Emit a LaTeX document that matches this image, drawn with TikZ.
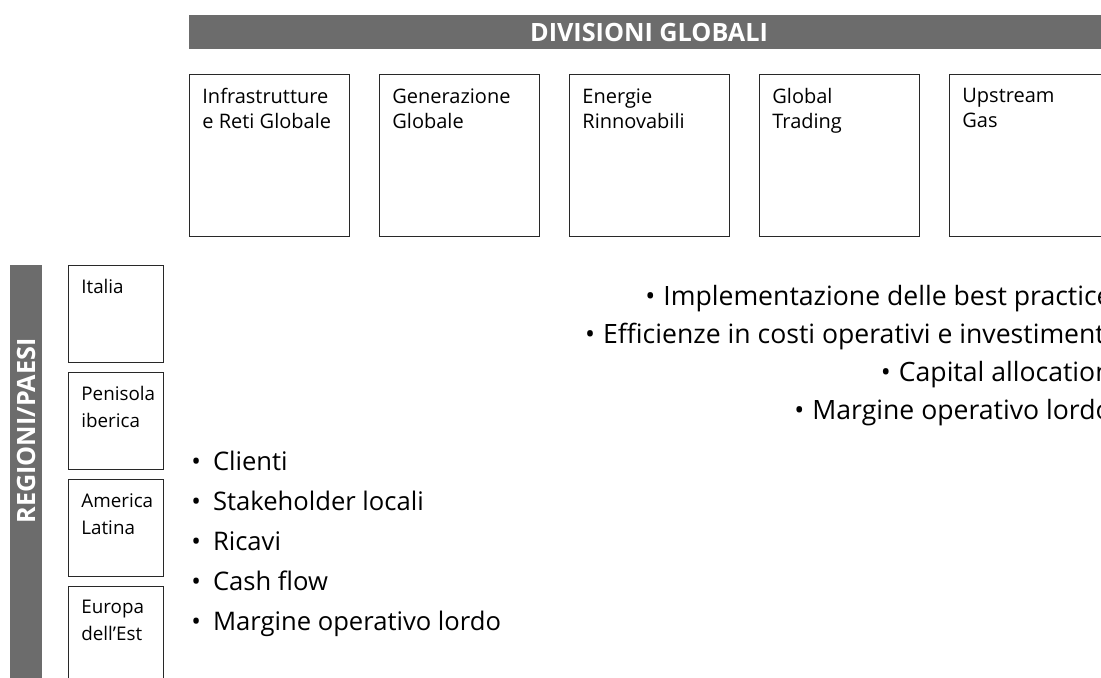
\documentclass[tikz,border=0pt]{standalone}
\usepackage{fontspec}
\setmainfont{Open Sans}
\definecolor{bannergray}{RGB}{108, 108, 108}
\definecolor{boxblack}{RGB}{40, 40, 40}
\tikzstyle{banner_title}=[text=white, font=\bfseries\fontsize{12.6}{14}\selectfont, inner sep=0pt]
\tikzstyle{division_box}=[rectangle, draw=boxblack, line width=0.7pt, anchor=north west,
    minimum width=80pt, minimum height=81pt, inner sep=0pt]
\tikzstyle{division_text}=[anchor=north west, align=left, inner sep=0pt, font=\fontsize{10}{12.5}\selectfont]
\tikzstyle{region_box}=[rectangle, draw=boxblack, line width=0.7pt, anchor=north west,
    minimum width=47.5pt, minimum height=48.5pt, inner sep=0pt]
\tikzstyle{region_text}=[anchor=north west, align=left, inner sep=0pt, font=\fontsize{9.4}{13.5}\selectfont]
\tikzstyle{goal_item}=[inner sep=0pt, font=\fontsize{12.8}{15}\selectfont]

\begin{document}
\begin{tikzpicture}[x=0.5pt, y=-0.5pt]
  % Page frame, everything running over the right and bottom edge is cut off
  \useasboundingbox (0,0) rectangle (1101,677);
  \clip (0,0) rectangle (1101,677);

  % Horizontal banner on top
  \fill[bannergray] (189,15) rectangle (1110,49);
  \node[banner_title] (divtitle) at (649,32) {DIVISIONI GLOBALI};

  % Vertical banner on the left
  \fill[bannergray] (10,265) rectangle (42,690);
  \node[banner_title, rotate=90] (regtitle) at (26,431) {REGIONI/PAESI};

  % Global divisions, one box each
  \foreach \i/\name in {0/{Infrastrutture\\e Reti Globale}, 1/{Generazione\\Globale},
      2/{Energie\\Rinnovabili}, 3/{Global\\Trading}, 4/{Upstream\\Gas}} {
      \node[division_box] (div\i) at (189+190*\i,74) {};
      \node[division_text] (divtext\i) at (202+190*\i,88) {\name};
  }

  % Regions and countries, the last box runs off the page
  \foreach \i/\name in {0/Italia, 1/{Penisola\\iberica}, 2/{America\\Latina}, 3/{Europa\\dell'Est}} {
      \node[region_box] (reg\i) at (68,265+107*\i) {};
      \node[region_text] (regtext\i) at (81,279+107*\i) {\name};
  }

  % Targets of the divisions, right aligned (cut by the page edge)
  \foreach \j/\txt in {0/Implementazione delle best practice, 1/Efficienze in costi operativi e investimenti,
      2/Capital allocation, 3/Margine operativo lordo} {
      \node[goal_item, font=\fontsize{13.3}{15}\selectfont, anchor=base east] (global\j)
          at (1112,305+38.3*\j) {\textbullet\hspace{4pt}\txt};
  }

  % Targets of the regions
  \foreach \j/\txt in {0/Clienti, 1/Stakeholder locali, 2/Ricavi, 3/Cash flow, 4/Margine operativo lordo} {
      \node[goal_item, anchor=base west] (local\j) at (191,470+40*\j) {\textbullet\hspace{6pt}\txt};
  }

\end{tikzpicture}
\end{document}
